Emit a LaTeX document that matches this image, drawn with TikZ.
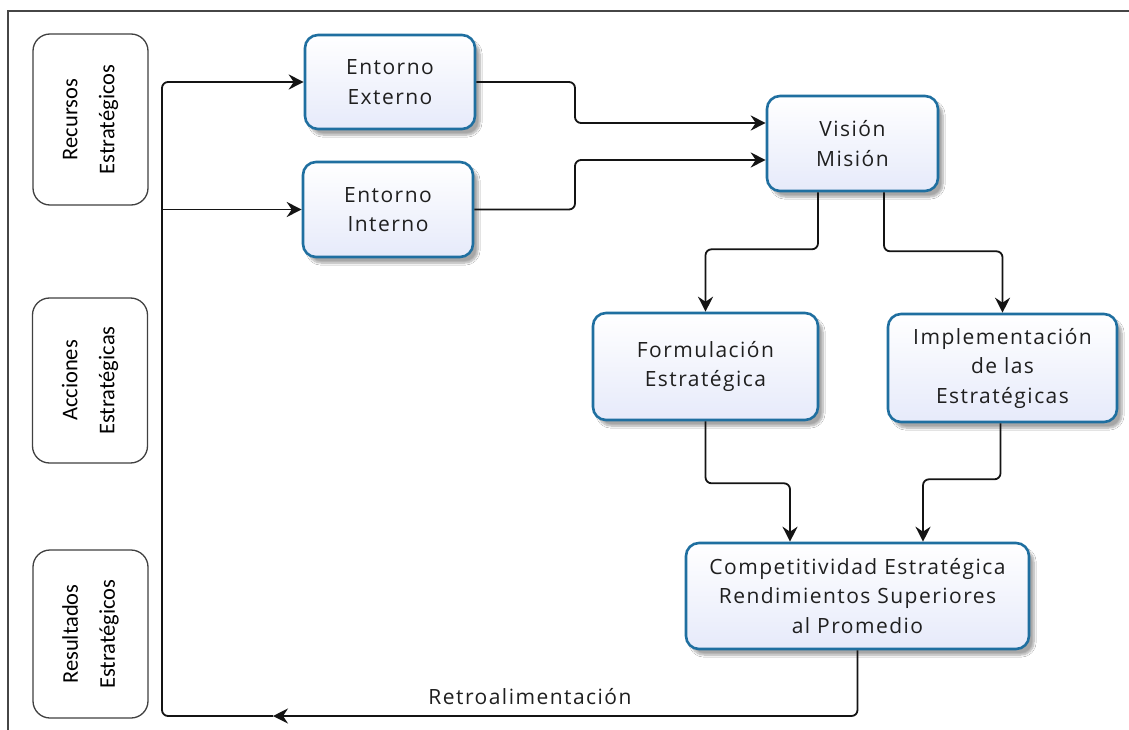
\documentclass[tikz,border=0pt]{standalone}
\usepackage{fontspec}
\setmainfont{Open Sans}
\newfontfamily\boxfont{Open Sans}[LetterSpace=7]
\newfontfamily\sidefont{Carlito}
\usetikzlibrary{arrows.meta,shadows.blur}

\definecolor{procblue}{RGB}{31,111,160}
\definecolor{proclav}{RGB}{230,234,250}
\definecolor{framegray}{RGB}{70,70,70}

\tikzset{
  proc/.style={draw=procblue, line width=2.6pt, rounded corners=13pt,
    top color=white, bottom color=proclav,
    blur shadow={shadow xshift=5pt, shadow yshift=-6pt, shadow blur steps=8, shadow opacity=35},
    align=center, text=black!88, inner sep=3pt,
    font=\boxfont\fontsize{21}{29.5}\selectfont},
  side/.style={draw=black!75, line width=1.3pt, rounded corners=17pt, fill=white,
    align=center, rotate=90, inner sep=2pt,
    font=\sidefont\fontsize{22.5}{37}\selectfont},
  conn/.style={draw=black!92, line width=1.8pt, rounded corners=6pt,
    -{Stealth[length=15pt,width=15pt,inset=5pt]}},
  plain/.style={font=\boxfont\fontsize{21}{26}\selectfont, text=black!88}
}

\begin{document}
\begin{tikzpicture}[x=1pt,y=-1pt]
\useasboundingbox (0,0) rectangle (1129,730);
\fill[white] (0,0) rectangle (1129,730);

% outer frame (top and left edges)
\draw[framegray, line width=2pt] (8,730) -- (8,11) -- (1129,11);

% stages along the left margin
\node[side, minimum width=171pt, minimum height=115pt] (rec) at (90.5,119.5) {Recursos\\Estratégicos};
\node[side, minimum width=165pt, minimum height=115pt] (acc) at (90,380.5) {Acciones\\Estratégicas};
\node[side, minimum width=168pt, minimum height=115pt] (res) at (90.5,634) {Resultados\\Estratégicos};

% process boxes
\node[proc, minimum width=170pt, minimum height=94pt] (extern) at (390,82) {Entorno\\Externo};
\node[proc, minimum width=170pt, minimum height=95pt] (intern) at (388,209.5) {Entorno\\Interno};
\node[proc, minimum width=171pt, minimum height=95pt] (vision) at (852.5,143.5) {Visión\\Misión};
\node[proc, minimum width=225pt, minimum height=107pt] (formul) at (705.5,366.5) {Formulación\\Estratégica};
\node[proc, minimum width=229pt, minimum height=108pt] (impl) at (1002.5,368) {Implementación\\de las\\Estratégicas};
\node[proc, minimum width=343pt, minimum height=106pt] (comp) at (857.5,596) {Competitividad Estratégica\\Rendimientos Superiores\\al Promedio};

% junction points of the feedback loop
\coordinate (fb) at (273,716);
\coordinate (tb) at (162,716);
\coordinate (br) at (162,209.5);

% connectors
\draw[conn] (extern.east) -| (575,123) -- (vision.west |- 0,123);
\draw[conn] (intern.east) -| (575,160) -- (vision.west |- 0,160);
\draw[conn] ([xshift=-34.5pt]vision.south) -- ++(0,57) -| (formul.north);
\draw[conn] ([xshift=31.5pt]vision.south) -- ++(0,59) -| (impl.north);
\draw[conn] (formul.south) -- ++(0,62) -| ([xshift=-67.5pt]comp.north);
\draw[conn] ([xshift=-2pt]impl.south) -- ++(0,56) -| ([xshift=65.5pt]comp.north);
\draw[conn] (comp.south) |- (fb);
\draw[conn] (fb) -- (tb) |- (extern.west);
\draw[conn] (br) -- (intern.west);

\node[plain] (retro) at (530,697) {Retroalimentación};
\end{tikzpicture}
\end{document}
